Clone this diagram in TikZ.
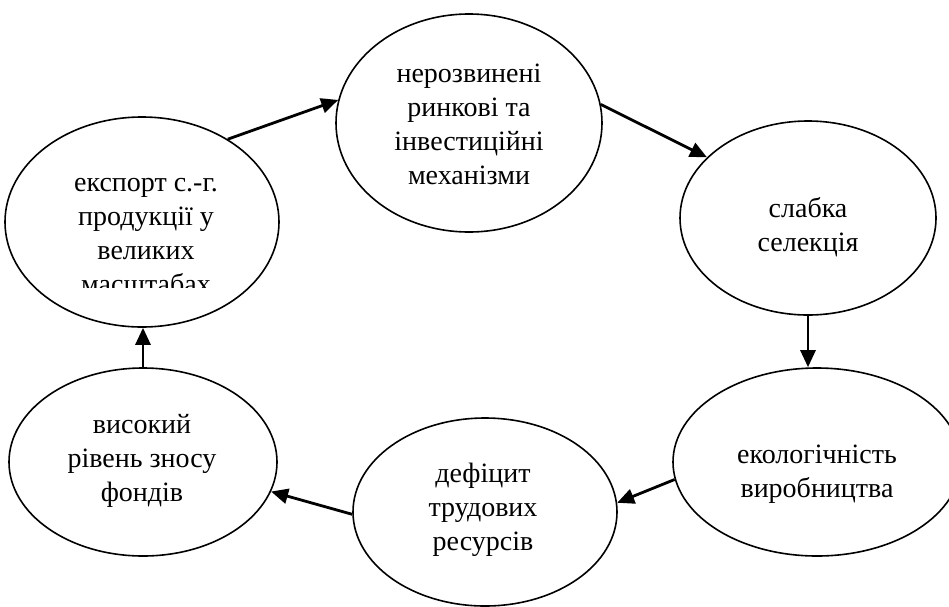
\documentclass[tikz,border=0pt]{standalone}
\usepackage{fontspec}
\setmainfont{Liberation Serif}
\usetikzlibrary{shapes.geometric,arrows.meta}
\begin{document}
\begin{tikzpicture}[x=1pt,y=-1pt,
  oval/.style={draw, ellipse, line width=1.6pt, inner sep=0pt},
  lbl/.style={align=center, font=\fontsize{28}{34}\selectfont, inner sep=0pt},
  arr/.style={line width=2.8pt, -{Triangle[length=17pt,width=15pt]}}]
\useasboundingbox (0,0) rectangle (949,606);
\clip (0,0) rectangle (949,606);
% ellipses
\node[oval, minimum width=266pt, minimum height=218pt] (e1) at (469,123) {};
\node[oval, minimum width=256pt, minimum height=194pt] (e2) at (808,218) {};
\node[oval, minimum width=288pt, minimum height=188pt] (e3) at (817,462) {};
\node[oval, minimum width=264pt, minimum height=188pt] (e4) at (485,512) {};
\node[oval, minimum width=268pt, minimum height=188pt] (e5) at (143,462) {};
\node[oval, minimum width=274pt, minimum height=210pt] (e6) at (142,222) {};
% texts
\node[lbl] (t1) at (469,124) {нерозвинені\\ринкові та\\інвестиційні\\механізми};
\node[lbl] (t2) at (808,227) {слабка\\селекція};
\node[lbl] (t3) at (817,474) {екологічність\\виробництва};
\node[lbl] (t4) at (483,510) {дефіцит\\трудових\\ресурсів};
\node[lbl] (t5) at (142,461) {високий\\рівень зносу\\фондів};
\begin{scope}
\clip (0,0) rectangle (300,287);
\node[lbl] (t6) at (146,236) {експорт с.-г.\\продукції у\\великих\\масштабах};
\end{scope}
% arrows
\draw[arr] (e6.44) -- (e1.170);
\draw[arr] (e1.8) -- (e2.149);
\draw[arr] (e2.south) -- (e2.south |- e3.north);
\draw[arr] (e3.187) -- (e4.4);
\draw[arr] (e4.181) -- (e5.347);
\draw[arr] (e5.north) -- (e5.north |- e6.south);
\end{tikzpicture}
\end{document}
